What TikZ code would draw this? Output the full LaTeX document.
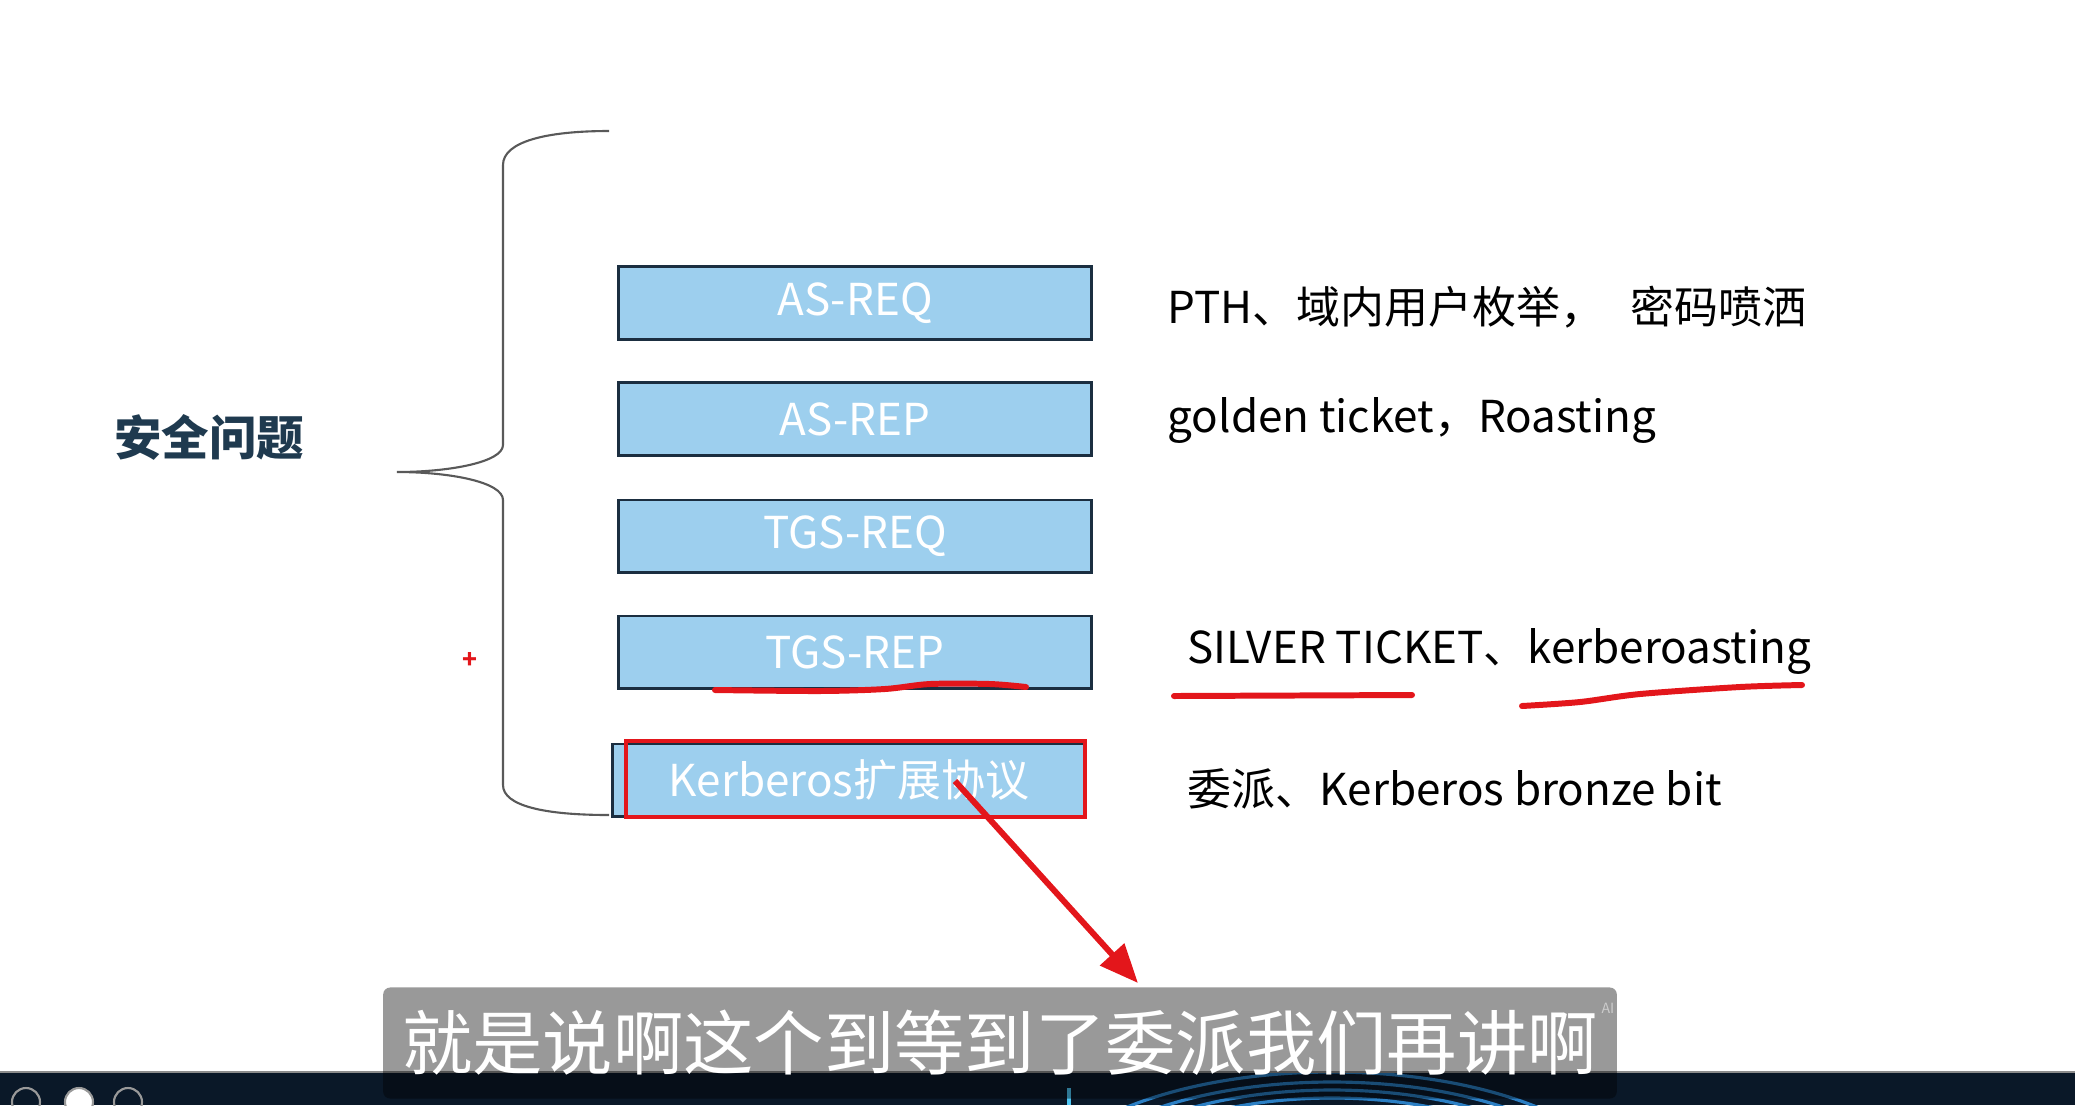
\documentclass[tikz,border=0pt]{standalone}
\usepackage{fontspec}
\setmainfont{Noto Sans CJK SC}
\usetikzlibrary{arrows.meta}
\definecolor{boxblue}{HTML}{9DCFEE}
\definecolor{boxline}{HTML}{1B2E40}
\definecolor{inkred}{HTML}{E3161B}
\definecolor{titlenavy}{HTML}{1F3A4F}
\definecolor{bandnavy}{HTML}{0A1828}
\definecolor{arcblue}{HTML}{2B7FC4}
\tikzset{
  msgbox/.style={draw=boxline, line width=0.85pt, fill=boxblue, minimum width=4.72cm,
    minimum height=0.72cm, inner sep=0pt, text=white, font=\fontsize{12.5}{14}\selectfont},
  attack/.style={anchor=west, inner sep=0pt, font=\fontsize{12.5}{14}\selectfont},
  pen/.style={inkred, line width=1.7pt, line cap=round},
}
\begin{document}
\begin{tikzpicture}[x=0.01cm, y=-0.01cm]
  \useasboundingbox (0,0) rectangle (2075,1105);
  \path
  (609,131) coordinate (BT)
  (503,165) coordinate (BU)
  (503,445) coordinate (BM1)
  (397,472) coordinate (Tip)
  (503,500) coordinate (BM2)
  (503,785) coordinate (BL)
  (609,815) coordinate (BB)
  (955,781) coordinate (PenFrom)
  (1138,983) coordinate (PenTo);

  % brace
  \draw[color=black!65, line width=0.6pt] (BT) .. controls (545,131) and (503,142) .. (BU) -- (BM1)
    .. controls (503,462) and (450,472) .. (Tip) .. controls (450,472) and (503,482) .. (BM2) -- (BL)
    .. controls (503,806) and (545,815) .. (BB);

  \node[text=titlenavy, font=\fontsize{13.5}{15}\selectfont\bfseries] (title) at (209,437) {安全问题};

  \node[msgbox] (asreq) at (855,303) {AS-REQ};
  \node[msgbox] (asrep) at (855,419) {AS-REP};
  \node[msgbox] (tgsreq) at (855,536) {TGS-REQ};
  \node[msgbox] (tgsrep) at (855,652) {TGS-REP};
  \node[msgbox] (kext) at (849,780) {Kerberos扩展协议};

  \node[attack] (pth) at (1167,307) {PTH、域内用户枚举，\hspace{0.6em}密码喷洒};
  \node[attack] (golden) at (1167,420) {golden ticket，Roasting};
  \node[attack] (silver) at (1187,651) {SILVER TICKET、kerberoasting};
  \node[attack] (bronze) at (1187,789) {委派、Kerberos bronze bit};

  % red pen marks
  \node[text=inkred, inner sep=0pt, font=\fontsize{7}{7}\selectfont\bfseries] (plus) at (470,660) {+};
  \draw[pen] plot[smooth] coordinates {(715,690) (820,691) (885,689) (930,684) (990,684) (1026,687)};
  \draw[pen] (1174,696) -- (1412,695);
  \draw[pen] plot[smooth] coordinates {(1522,706) (1580,702) (1640,694) (1740,687) (1802,685)};
  \draw[pen, line width=1.4pt, line cap=butt] (626,741) rectangle (1085,817);
  \draw[pen, line cap=butt, -{Triangle[length=11pt, width=9pt]}] (PenFrom) -- (PenTo);

  % bottom band
  \fill[bandnavy] (0,1072) rectangle (2075,1105);
  \draw[black!45, line width=0.5pt] (0,1072) -- (2075,1072);
  \begin{scope}
    \clip (0,1073) rectangle (2075,1105);
    \foreach \a/\b in {300/130,280/120,260/112,240/104}
      \draw[arcblue, line width=0.9pt] (1332,1202) ellipse [x radius=\a, y radius=\b];
    \draw[cyan!70!white, line width=1.2pt] (1069,1088) -- (1069,1105);
    \draw[black!40, line width=0.6pt] (26,1102) circle (14);
    \filldraw[draw=black!40, fill=white, line width=0.6pt] (79,1102) circle (14);
    \draw[black!40, line width=0.6pt] (128,1102) circle (14);
  \end{scope}

  % subtitle
  \node[fill=black, fill opacity=0.4, text opacity=1, text=white, rounded corners=2pt,
    minimum width=12.33cm, minimum height=1.11cm, inner sep=0pt,
    font=\fontsize{20}{22}\selectfont] (caption) at (1000,1043) {就是说啊这个到等到了委派我们再讲啊};
  \node[text=white!80!black, inner sep=0pt, font=\fontsize{4}{4}\selectfont] (ai) at (1608,1008) {AI};
\end{tikzpicture}
\end{document}
